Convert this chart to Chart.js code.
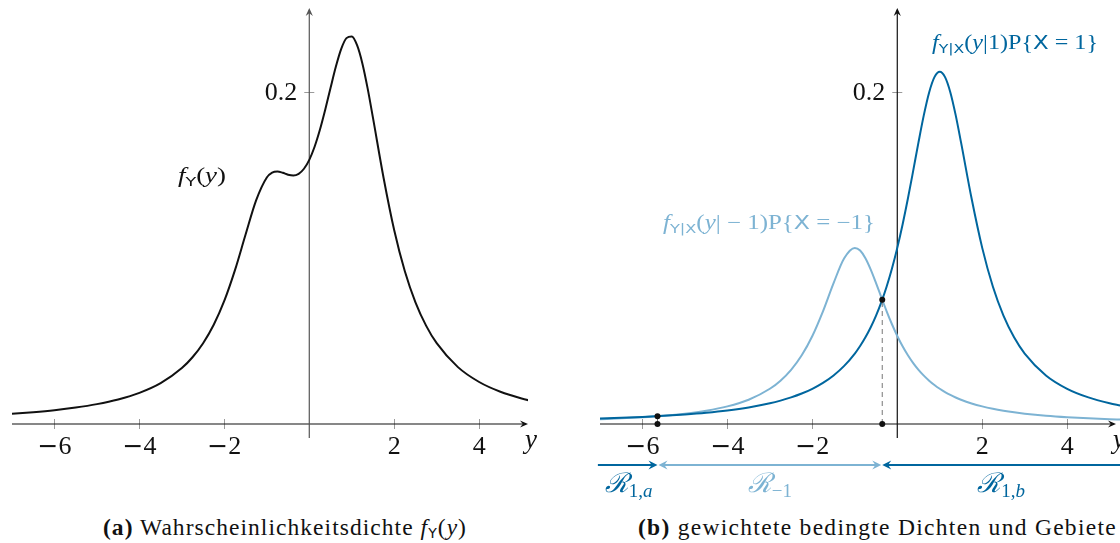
<!DOCTYPE html>
<html><head><meta charset="utf-8">
<script src="https://cdn.jsdelivr.net/npm/chart.js@4"></script>
<style>
body{margin:0;background:#fff;width:1120px;height:543px;overflow:hidden;position:relative;}
#c1{position:absolute;left:0;top:0}
#c2{position:absolute;left:588px;top:0}
.cap{position:absolute;top:513px;font-family:'Liberation Serif',serif;font-size:23.5px;color:#111;white-space:nowrap;line-height:28px}
.cap sub{font-family:'DejaVu Sans',sans-serif;font-size:14px;vertical-align:-3px;line-height:0}
</style></head><body>
<canvas id="c1" width="560" height="500"></canvas>
<canvas id="c2" width="560" height="500"></canvas>
<div class="cap" id="capA" data-l="103" data-r="467"><b>(a)</b> Wahrscheinlichkeitsdichte <i>f</i><sub>Y</sub>(<i>y</i>)</div>
<div class="cap" id="capB" data-l="638" data-r="1117"><b>(b)</b> gewichtete bedingte Dichten und Gebiete</div>
<script>
// ---- data ----
const yValues = [-7,-6.5,-6,-5.5,-5,-4.5,-4,-3.5,-3,-2.75,-2.5,-2.25,-2,-1.75,-1.5,-1.25,-1,-0.875,-0.75,-0.625,-0.5,-0.375,-0.25,-0.125,0,0.125,0.25,0.375,0.5,0.625,0.75,0.875,1,1.125,1.25,1.375,1.5,1.75,2,2.25,2.5,2.75,3,3.5,4,4.5,5,5.25];
const densityY = [0.00613,0.00711,0.00832,0.00990,0.01198,0.01480,0.01877,0.02462,0.03370,0.04021,0.04867,0.05976,0.07427,0.09268,0.11415,0.13486,0.14854,0.15147,0.15210,0.15131,0.15018,0.14971,0.15071,0.15376,0.15915,0.16702,0.17722,0.18931,0.20242,0.21519,0.22585,0.23245,0.23343,0.22819,0.21723,0.20203,0.18440,0.14820,0.11671,0.09199,0.07331,0.05928,0.04868,0.03426,0.02530,0.01942,0.01535,0.01378];
const weightedPlus = [0.00326,0.00371,0.00424,0.00491,0.00574,0.00679,0.00816,0.00999,0.01248,0.01409,0.01602,0.01835,0.02122,0.02478,0.02927,0.03500,0.04244,0.04700,0.05224,0.05829,0.06530,0.07341,0.08281,0.09367,0.10610,0.12019,0.13581,0.15260,0.16977,0.18605,0.19973,0.20895,0.21221,0.20895,0.19973,0.18605,0.16977,0.13581,0.10610,0.08281,0.06530,0.05224,0.04244,0.02927,0.02122,0.01602,0.01248,0.01113];
const weightedMinus = [0.00287,0.00340,0.00408,0.00499,0.00624,0.00801,0.01061,0.01463,0.02122,0.02612,0.03265,0.04141,0.05305,0.06790,0.08488,0.09986,0.10610,0.10447,0.09986,0.09302,0.08488,0.07630,0.06790,0.06009,0.05305,0.04683,0.04141,0.03671,0.03265,0.02914,0.02612,0.02350,0.02122,0.01924,0.01750,0.01598,0.01463,0.01239,0.01061,0.00918,0.00801,0.00704,0.00624,0.00499,0.00408,0.00340,0.00287,0.00265];
const crossX = [-5.646, -0.354];
const crossY = [0.0047, 0.0749];
const xTicks = [-6,-4,-2,2,4];
const xTickLabels = ['\u22126','\u22124','\u22122','2','4'];
const yTicks = [0.2];
const yTickLabels = ['0.2'];

const DARK = '#00669E', LIGHT = '#7DB3D3';
const SERIF = "'Liberation Serif', serif", SANS = "'DejaVu Sans', sans-serif";

// fit captions to their reference extent
document.querySelectorAll('.cap').forEach(el=>{
  const l=+el.dataset.l, r=+el.dataset.r, w=el.getBoundingClientRect().width;
  const n=el.textContent.length;
  el.style.letterSpacing=((r-l-w)/n)+'px';
  el.style.left=l+'px';
});

function pts(xs, ys){ return xs.map((x,i)=>({x:x, y:ys[i]})); }

function arrowHead(ctx, x, y, ang, len, w, color){
  ctx.save(); ctx.translate(x,y); ctx.rotate(ang); ctx.fillStyle=color;
  ctx.beginPath(); ctx.moveTo(0,0); ctx.lineTo(-len,-w); ctx.lineTo(-len*0.65,0); ctx.lineTo(-len,w); ctx.closePath(); ctx.fill();
  ctx.restore();
}
function rich(ctx, segs, x, y, align, color, target){
  let w=0; segs.forEach(s=>{ctx.font=s[1]; w+=ctx.measureText(s[0]).width;});
  const sx = target ? target/w : 1;
  const tw = w*sx;
  let start = align==='center'? x-tw/2 : (align==='right'? x-tw : x);
  ctx.save(); ctx.translate(start, y); ctx.scale(sx,1);
  ctx.fillStyle=color; ctx.textAlign='left'; ctx.textBaseline='alphabetic';
  let cx=0;
  segs.forEach(s=>{ctx.font=s[1]; ctx.fillText(s[0], cx, (s[2]||0)); cx+=ctx.measureText(s[0]).width;});
  ctx.restore();
}
function tickLabel(ctx, txt, x, y){
  if(txt[0]==='\u2212'){
    rich(ctx, [['\u2212','25px '+SANS,0],[txt.slice(1),'26px '+SERIF]], x, y, 'center', '#111');
  } else {
    rich(ctx, [[txt,'26px '+SERIF]], x, y, 'center', '#111');
  }
}

const axesPlugin = {
  id:'axes',
  beforeDatasetsDraw(c, args, opts){
    const ctx=c.ctx, ax=c.scales.x, ay=c.scales.y, ca=c.chartArea;
    const x0=ax.getPixelForValue(0), y0=ay.getPixelForValue(0);
    ctx.save();
    ctx.strokeStyle='#9a9a9a'; ctx.lineWidth=1;
    xTicks.forEach(v=>{const p=Math.round(ax.getPixelForValue(v))+0.5; ctx.beginPath(); ctx.moveTo(p,y0-5); ctx.lineTo(p,y0+5); ctx.stroke();});
    yTicks.forEach(v=>{const p=Math.round(ay.getPixelForValue(v))+0.5; ctx.beginPath(); ctx.moveTo(x0-5,p); ctx.lineTo(x0+5,p); ctx.stroke();});
    ctx.strokeStyle='#111'; ctx.lineWidth=1.2;
    ctx.beginPath(); ctx.moveTo(ca.left, y0); ctx.lineTo(ca.right-2, y0); ctx.stroke();
    arrowHead(ctx, ca.right, y0, 0, 8, 3.6, '#111');
    ctx.strokeStyle=opts.yAxisColor||'#111';
    ctx.beginPath(); ctx.moveTo(x0, ca.bottom); ctx.lineTo(x0, ca.top+2); ctx.stroke();
    arrowHead(ctx, x0, ca.top, -Math.PI/2, 8, 3.6, opts.yAxisColor||'#111');
    xTicks.forEach((v,i)=>tickLabel(ctx, xTickLabels[i], ax.getPixelForValue(v), y0+30));
    yTicks.forEach((v,i)=>rich(ctx, [[yTickLabels[i],'26px '+SERIF]], x0-12, ay.getPixelForValue(v)+8.5, 'right', '#111'));
    rich(ctx, [['y','italic 27px '+SERIF]], ca.right+3, y0+24, 'center', '#111');
    ctx.restore();
  },
  afterDatasetsDraw(c, args, opts){
    if(opts.draw) opts.draw(c);
  }
};

function makeChart(id, datasets, extra){
  return new Chart(document.getElementById(id), {
    type:'scatter',
    data:{datasets:datasets},
    options:{
      responsive:false, animation:false, events:[],
      layout:{padding:{left:12,right:32,top:8,bottom:62}},
      scales:{
        x:{type:'linear', min:-7, max:5.15, display:false},
        y:{type:'linear', min:-0.00843, max:0.2506, display:false}
      },
      elements:{point:{radius:0}},
      plugins:{legend:{display:false}, tooltip:{enabled:false}, axes:extra}
    },
    plugins:[axesPlugin]
  });
}

const curveBase = {showLine:true, borderWidth:2, pointRadius:0, cubicInterpolationMode:'monotone', fill:false};

makeChart('c1', [
  Object.assign({}, curveBase, {data:pts(yValues, densityY), borderColor:'#111'})
], {
  yAxisColor:'#555',
  draw(c){
    const ctx=c.ctx;
    rich(ctx, [['f','italic 20px '+SERIF],['Y','13px '+SANS,4],['(','20px '+SERIF],['y','italic 20px '+SERIF],[')','20px '+SERIF]], 202, 182, 'center', '#111', 48);
  }
});

makeChart('c2', [
  {data:pts(crossX, crossY), pointRadius:3, pointBackgroundColor:'#111', pointBorderWidth:0, showLine:false, order:0},
  {data:pts(crossX, [0,0]), pointRadius:3, pointBackgroundColor:'#111', pointBorderWidth:0, showLine:false, order:0},
  {data:pts([crossX[0],crossX[0]],[0,crossY[0]]), showLine:true, borderColor:'#777', borderWidth:1, borderDash:[5,4], pointRadius:0, order:1},
  {data:pts([crossX[1],crossX[1]],[0,crossY[1]]), showLine:true, borderColor:'#777', borderWidth:1, borderDash:[5,4], pointRadius:0, order:1},
  Object.assign({}, curveBase, {data:pts(yValues, weightedMinus), borderColor:LIGHT, order:3, clip:{left:0,top:0,right:8,bottom:0}}),
  Object.assign({}, curveBase, {data:pts(yValues, weightedPlus), borderColor:DARK, order:2, clip:{left:0,top:0,right:8,bottom:0}})
], {
  draw(c){
    const ctx=c.ctx, ax=c.scales.x;
    const a=ax.getPixelForValue(-7.05), b=ax.getPixelForValue(crossX[0]), m=ax.getPixelForValue(crossX[1]), r=ax.getPixelForValue(5.4);
    const yy=465;
    ctx.save(); ctx.lineWidth=2;
    ctx.strokeStyle=DARK; ctx.beginPath(); ctx.moveTo(a,yy); ctx.lineTo(b-5,yy); ctx.stroke();
    arrowHead(ctx,b,yy,0,9,4.5,DARK);
    ctx.strokeStyle=LIGHT; ctx.beginPath(); ctx.moveTo(b+5,yy); ctx.lineTo(m-5,yy); ctx.stroke();
    arrowHead(ctx,b+1,yy,Math.PI,9,4.5,LIGHT); arrowHead(ctx,m-1,yy,0,9,4.5,LIGHT);
    ctx.strokeStyle=DARK; ctx.beginPath(); ctx.moveTo(r,yy); ctx.lineTo(m+5,yy); ctx.stroke();
    arrowHead(ctx,m,yy,Math.PI,9,4.5,DARK);
    const R='italic 27px '+SERIF, sub='19px '+SERIF, subi='italic 19px '+SERIF;
    rich(ctx, [['\u211B',R],['1,',sub,5],['a',subi,5]], (a+b)/2+1, 492, 'center', DARK);
    rich(ctx, [['\u211B',R],['\u22121',sub,5]], (b+m)/2, 492, 'center', LIGHT);
    rich(ctx, [['\u211B',R],['1,',sub,5],['b',subi,5]], (m+ax.getPixelForValue(5.25))/2, 492, 'center', DARK);
    const F='italic 20px '+SERIF, N='20px '+SERIF, S='13px '+SANS, X='19px '+SANS;
    rich(ctx, [['f',F],['Y|X',S,4],['(',N],['y',F],['|1)P{',N],['X',X],[' = 1}',N]], 344, 49, 'left', DARK, 166);
    rich(ctx, [['f',F],['Y|X',S,4],['(',N],['y',F],['| \u2212 1)P{',N],['X',X],[' = \u22121}',N]], 75, 229, 'left', LIGHT, 212);
    ctx.restore();
  }
});
</script>
</body></html>
